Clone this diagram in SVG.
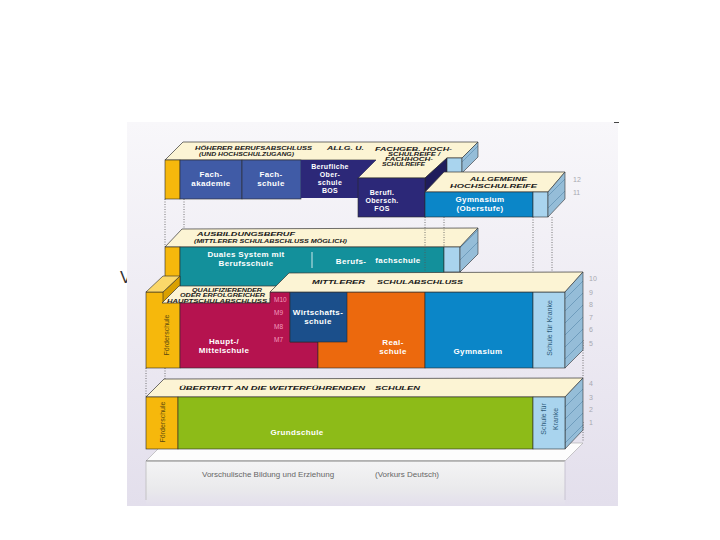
<svg xmlns="http://www.w3.org/2000/svg" width="720" height="540" viewBox="0 0 720 540">
<defs>
<linearGradient id="bg" x1="0" y1="0" x2="0" y2="1">
<stop offset="0" stop-color="#f8f7fa"/>
<stop offset="1" stop-color="#e3dfec"/>
</linearGradient>
<linearGradient id="pre" x1="0" y1="0" x2="0" y2="1">
<stop offset="0" stop-color="#f4f4f5"/>
<stop offset="0.6" stop-color="#eaeaec"/>
<stop offset="1" stop-color="#e3dfec"/>
</linearGradient>
<pattern id="hatch" patternUnits="userSpaceOnUse" width="12" height="12">
<rect width="12" height="12" fill="#95bdd8"/>
<path d="M0,12 L12,0 M-3,3 L3,-3 M9,15 L15,9" stroke="#5f8fb2" stroke-width="0.7"/>
</pattern>
<style>
.top{fill:#fcf4d4;stroke:#333;stroke-width:0.7}
.side{fill:url(#hatch);stroke:#333;stroke-width:0.6}
.fr{stroke:#2a2a2a;stroke-width:0.6}
.lb{fill:#a9d4ee;stroke:#2a2a2a;stroke-width:0.6}
.yel{fill:#f6b80c;stroke:#2a2a2a;stroke-width:0.6}
.lbl{font-family:"Liberation Sans",Arial,sans-serif;font-weight:bold;font-size:8px;letter-spacing:0.35px;fill:#fff;text-anchor:middle}
.sm{font-size:7px}
.cap{font-family:"Liberation Sans",Arial,sans-serif;font-weight:bold;font-style:italic;font-size:6px;fill:#1a1a1a}
.num{font-family:"Liberation Sans",Arial,sans-serif;font-size:7px;fill:#a8a8b0}
.rot{font-family:"Liberation Sans",Arial,sans-serif;font-size:7px;text-anchor:middle}
.m{font-family:"Liberation Sans",Arial,sans-serif;font-size:6.5px;fill:#f39cbd}
.dot{stroke:#555;stroke-width:0.8;stroke-dasharray:1 1.5;fill:none}
.pre{font-family:"Liberation Sans",Arial,sans-serif;font-size:8px;fill:#666}
</style>
</defs>

<rect width="720" height="540" fill="#fff"/>
<text x="120" y="283" font-family="Liberation Sans, Arial, sans-serif" font-size="17" fill="#333">V</text>
<rect x="127" y="122" width="491" height="384" fill="url(#bg)"/>
<line x1="614" y1="122.5" x2="619" y2="122.5" stroke="#444" stroke-width="1"/>

<g id="connectors-back">
<line class="dot" x1="165" y1="199" x2="165" y2="247"/>
<line class="dot" x1="184" y1="199" x2="184" y2="230"/>
<line class="dot" x1="146" y1="368" x2="146" y2="397"/>
<line class="dot" x1="165" y1="368" x2="165" y2="380"/>
<line class="dot" x1="583" y1="340" x2="583" y2="378"/>
<line class="dot" x1="583" y1="422" x2="583" y2="442"/>
</g>

<g id="upper-top">
<polygon class="top" points="165,160 183,142 478,142 462,158 447,158 425,178 358,178 376,160"/>
<polygon fill="#2c2878" points="358,160 376,160 358,178"/>
<polygon fill="#1f1c5c" stroke="#2a2a2a" stroke-width="0.6" points="425,178 447,158 447,205 425,217"/>
<rect class="lb" x="447" y="158" width="15" height="15"/>
<polygon class="side" points="462,158 478,142 478,157 462,173"/>
<text class="cap" x="195" y="150" textLength="117" lengthAdjust="spacingAndGlyphs">HÖHERER BERUFSABSCHLUSS</text>
<text class="cap" x="199" y="155.5" font-size="5" textLength="95" lengthAdjust="spacingAndGlyphs">(UND HOCHSCHULZUGANG)</text>
<text class="cap" x="327" y="150" textLength="37" lengthAdjust="spacingAndGlyphs">ALLG. U.</text>
<text class="cap" x="375" y="151" font-size="5" textLength="77" lengthAdjust="spacingAndGlyphs">FACHGEB. HOCH-</text>
<text class="cap" x="388" y="156" font-size="5" textLength="52" lengthAdjust="spacingAndGlyphs">SCHULREIFE /</text>
<text class="cap" x="385" y="161" font-size="5" textLength="48" lengthAdjust="spacingAndGlyphs">FACHHOCH-</text>
<text class="cap" x="382" y="166" font-size="5" textLength="43" lengthAdjust="spacingAndGlyphs">SCHULREIFE</text>
<rect class="yel" x="165" y="160" width="15" height="39"/>
</g>

<g id="fachakademie">
<rect class="fr" x="180" y="160" width="62" height="39" fill="#405ba6"/>
<text class="lbl" x="211" y="177">Fach-</text>
<text class="lbl" x="211" y="186">akademie</text>
</g>
<g id="fachschule">
<rect class="fr" x="242" y="160" width="59" height="39" fill="#405ba6"/>
<text class="lbl" x="271" y="177">Fach-</text>
<text class="lbl" x="271" y="186">schule</text>
</g>
<g id="bos">
<rect x="301" y="160" width="57" height="38" fill="#2c2878"/>
<text class="lbl sm" x="330" y="169">Berufliche</text>
<text class="lbl sm" x="330" y="177">Ober-</text>
<text class="lbl sm" x="330" y="185">schule</text>
<text class="lbl sm" x="330" y="193">BOS</text>
</g>
<g id="fos">
<rect class="fr" x="358" y="178" width="67" height="39" fill="#2c2878"/>
<text class="lbl sm" x="382" y="195" text-anchor="start">Berufl.</text>
<text class="lbl sm" x="382" y="203" text-anchor="start">Obersch.</text>
<text class="lbl sm" x="382" y="211" text-anchor="start">FOS</text>
</g>

<g id="gymnasium-oberstufe">
<polygon class="top" points="425,192 444,172 565,172 548,192"/>
<text class="cap" x="470" y="181" textLength="57" lengthAdjust="spacingAndGlyphs">ALLGEMEINE</text>
<text class="cap" x="450" y="188" textLength="87" lengthAdjust="spacingAndGlyphs">HOCHSCHULREIFE</text>
<rect class="fr" x="425" y="192" width="108" height="25" fill="#0b86c8"/>
<rect class="lb" x="533" y="192" width="15" height="25"/>
<polygon class="side" points="548,192 565,172 565,199 548,217"/>
<text class="lbl" x="480" y="202">Gymnasium</text>
<text class="lbl" x="480" y="211" font-weight="normal">(Oberstufe)</text>
</g>

<g id="ausbildung">
<polygon class="top" points="165,247 182,229 478,228 460,247"/>
<text class="cap" x="197" y="236" textLength="98" lengthAdjust="spacingAndGlyphs">AUSBILDUNGSBERUF</text>
<text class="cap" x="194" y="243" font-size="5" textLength="153" lengthAdjust="spacingAndGlyphs">(MITTLERER SCHULABSCHLUSS MÖGLICH)</text>
<rect class="yel" x="165" y="247" width="15" height="40"/>
<rect class="fr" x="180" y="247" width="264" height="45" fill="#13909b"/>
<rect class="lb" x="444" y="247" width="16" height="25"/>
<polygon class="side" points="460,247 478,228 478,254 460,272"/>
</g>
<g id="duales-system">
<text class="lbl" x="246" y="257">Duales System mit</text>
<text class="lbl" x="246" y="266">Berufsschule</text>
<line x1="312" y1="252" x2="312" y2="268" stroke="#fff" stroke-width="0.8"/>
</g>
<g id="berufsfachschule">
<text class="lbl" x="351" y="264">Berufs-</text>
<text class="lbl" x="398" y="263">fachschule</text>
</g>

<g id="foerderschule-mitte">
<rect class="yel" x="146" y="292" width="34" height="76"/>
<polygon fill="#d9a000" stroke="#2a2a2a" stroke-width="0.6" points="163,292 180,276 180,290 163,303"/>
<polygon fill="#fbd86a" stroke="#2a2a2a" stroke-width="0.6" points="146,292 163,276 180,276 163,292"/>
<text class="rot" transform="translate(168.5,335) rotate(-90)" fill="#5c4a10">Förderschule</text>
</g>

<g id="hauptschule">
<polygon class="top" points="162,303 179,286 283,286 270,298 270,303"/>
<text class="cap" x="192" y="291.5" font-size="4.5" textLength="70" lengthAdjust="spacingAndGlyphs">QUALIFIZIERENDER</text>
<text class="cap" x="180" y="297" font-size="4.5" textLength="85" lengthAdjust="spacingAndGlyphs">ODER ERFOLGREICHER</text>
<text class="cap" x="167" y="302.5" font-size="4.5" textLength="100" lengthAdjust="spacingAndGlyphs">HAUPTSCHULABSCHLUSS</text>
<path class="fr" d="M180,303 H270 V292 H290 V342 H318 V368 H180 Z" fill="#b5134f"/>
<text class="lbl" x="224" y="344">Haupt-/</text>
<text class="lbl" x="224" y="353">Mittelschule</text>
<text class="m" x="274" y="302">M10</text>
<text class="m" x="274" y="315">M9</text>
<text class="m" x="274" y="329">M8</text>
<text class="m" x="274" y="342">M7</text>
</g>
<g id="realschule">
<rect class="fr" x="318" y="292" width="107" height="76" fill="#ec690d"/>
<text class="lbl" x="393" y="345" fill="#fbe3cc">Real-</text>
<text class="lbl" x="393" y="354" fill="#fbe3cc">schule</text>
</g>
<g id="wirtschaftsschule">
<rect class="fr" x="290" y="292" width="57" height="50" fill="#1b4f8b"/>
<text class="lbl" x="318" y="315">Wirtschafts-</text>
<text class="lbl" x="318" y="324">schule</text>
</g>
<g id="gymnasium">
<rect class="fr" x="425" y="292" width="108" height="76" fill="#0b86c8"/>
<text class="lbl" x="478" y="354">Gymnasium</text>
</g>
<g id="schule-kranke-mitte">
<rect class="lb" x="533" y="292" width="32" height="76"/>
<text class="rot" transform="translate(552,328) rotate(-90)" fill="#2d5b7a">Schule für Kranke</text>
</g>
<g id="mittlerer-abschluss">
<polygon class="top" points="270,292 289,273 583,272 565,292"/>
<text class="cap" x="312" y="284" textLength="53" lengthAdjust="spacingAndGlyphs">MITTLERER</text>
<text class="cap" x="377" y="284" textLength="86" lengthAdjust="spacingAndGlyphs">SCHULABSCHLUSS</text>
<polygon class="side" points="565,292 583,272 583,350 565,368"/>
</g>

<g id="vorschule">
<polygon fill="#fdfdfd" stroke="#999" stroke-width="0.5" points="146,461 164,443 583,443 565,461"/>
<rect x="146" y="461" width="419" height="45" fill="url(#pre)"/>
<line x1="146" y1="461" x2="565" y2="461" stroke="#555" stroke-width="0.7"/>
<line x1="146" y1="461" x2="146" y2="500" stroke="#bbb" stroke-width="0.8"/>
<line x1="565" y1="461" x2="565" y2="500" stroke="#c8c4d2" stroke-width="1"/>
<text class="pre" x="202" y="477">Vorschulische Bildung und Erziehung</text>
<text class="pre" x="375" y="477">(Vorkurs Deutsch)</text>
</g>

<g id="uebertritt">
<polygon class="top" points="146,397 164,379 583,378 565,397"/>
<text class="cap" x="179" y="390" textLength="186" lengthAdjust="spacingAndGlyphs">ÜBERTRITT AN DIE WEITERFÜHRENDEN</text>
<text class="cap" x="375" y="390" textLength="45" lengthAdjust="spacingAndGlyphs">SCHULEN</text>
<polygon class="side" points="565,397 583,378 583,430 565,449"/>
</g>
<g id="foerderschule-unten">
<rect class="yel" x="146" y="397" width="32" height="52"/>
<text class="rot" transform="translate(164.5,422) rotate(-90)" fill="#5c4a10">Förderschule</text>
</g>
<g id="grundschule">
<rect class="fr" x="178" y="397" width="355" height="52" fill="#8dbb18"/>
<text class="lbl" x="297" y="435" fill="#f3f5d8">Grundschule</text>
</g>
<g id="schule-kranke-unten">
<rect class="lb" x="533" y="397" width="32" height="52"/>
<text class="rot" transform="translate(546,419) rotate(-90)" fill="#2d5b7a">Schule für</text>
<text class="rot" transform="translate(558,419) rotate(-90)" fill="#2d5b7a">Kranke</text>
</g>

<g id="connectors">
<line class="dot" x1="425" y1="217" x2="425" y2="272"/>
<line class="dot" x1="444" y1="217" x2="444" y2="247"/>
<line class="dot" x1="533" y1="217" x2="533" y2="272"/>
<line class="dot" x1="552" y1="217" x2="552" y2="272"/>
</g>

<g id="jahrgangsstufen">
<text class="num" x="573" y="182">12</text>
<text class="num" x="573" y="195">11</text>
<text class="num" x="589" y="281">10</text>
<text class="num" x="589" y="295">9</text>
<text class="num" x="589" y="307">8</text>
<text class="num" x="589" y="320">7</text>
<text class="num" x="589" y="332">6</text>
<text class="num" x="589" y="346">5</text>
<text class="num" x="589" y="386">4</text>
<text class="num" x="589" y="400">3</text>
<text class="num" x="589" y="412">2</text>
<text class="num" x="589" y="425">1</text>
</g>
</svg>
